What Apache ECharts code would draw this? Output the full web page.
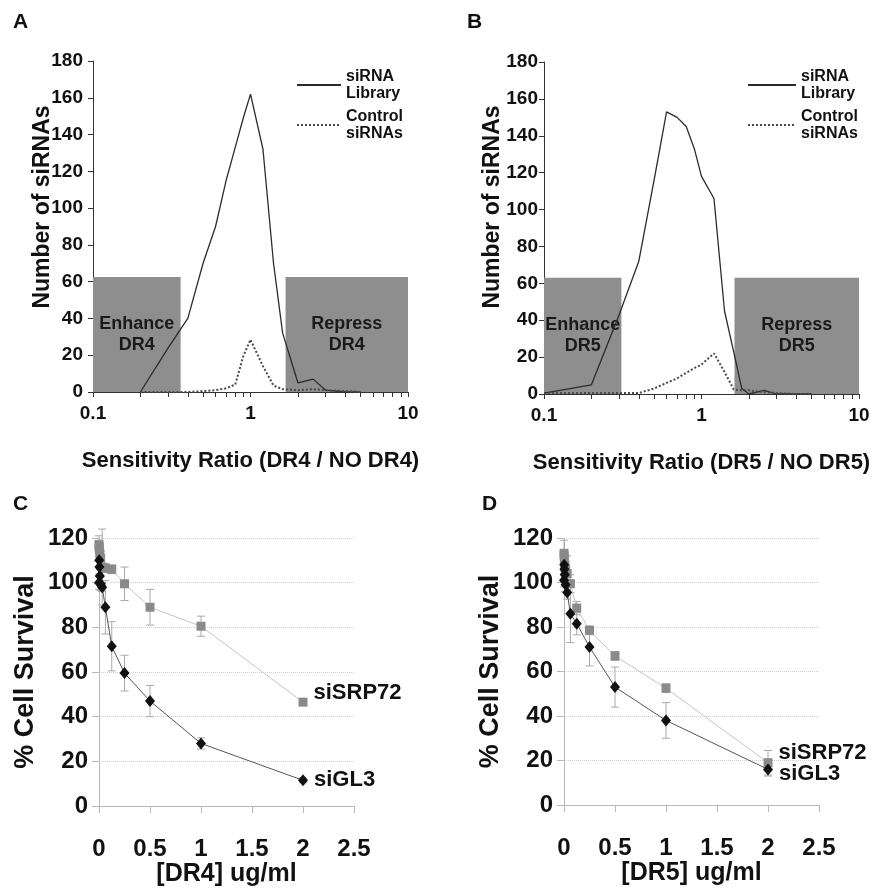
<!DOCTYPE html>
<html>
<head>
<meta charset="utf-8">
<script src="https://cdn.jsdelivr.net/npm/echarts@6/dist/echarts.min.js"></script>
<style>
html, body { margin: 0; padding: 0; background: #fff; }
#main { width: 886px; height: 890px; }
</style>
</head>
<body>
<div id="main"></div>
<script>
var font = 'Liberation Sans, Arial, sans-serif';

// A / B : histogram of sensitivity ratios
var ratioA = [0.2, 0.3, 0.4, 0.5, 0.6, 0.7, 0.8, 0.9, 1, 1.2, 1.4, 1.6, 2, 2.5, 3, 4, 5];
var libraryA = [0, 24, 40, 70, 90, 115, 133, 149, 162, 132, 70, 32, 5, 7, 1, 0, 0];
var controlA = [0, 0, 0, 0.5, 1, 2, 4, 19.5, 28.5, 14, 3.5, 1.5, 1, 1.5, 1, 0.5, 0];

var ratioB = [0.1, 0.2, 0.3, 0.4, 0.5, 0.6, 0.7, 0.8, 0.9, 1, 1.2, 1.4, 1.6, 1.8, 2, 2.5, 3, 4, 5];
var libraryB = [0.5, 5, 43, 72, 116, 153, 150, 145, 133, 118, 106, 45, 23, 3, 0, 2, 0, 0, 0];
var controlB = [0.5, 0.5, 0.5, 0.5, 3, 6, 8.5, 11.5, 14, 16, 22, 12, 2.5, 2, 2, 1, 0.5, 0, 0];

// shaded zones [from, to, height]
var enhanceA = [0.1, 0.36, 62.5];
var repressA = [1.67, 10, 62.5];
var enhanceB = [0.1, 0.31, 63];
var repressB = [1.62, 10, 63];

var logTicks = [0.1, 0.2, 0.3, 0.4, 0.5, 0.6, 0.7, 0.8, 0.9, 1, 2, 3, 4, 5, 6, 7, 8, 9, 10];
var legendNames = ['siRNA\nLibrary', 'Control\nsiRNAs'];

// C / D : dose response
var dose = [0, 0.002, 0.004, 0.008, 0.016, 0.031, 0.0625, 0.125, 0.25, 0.5, 1, 2];

var gl3C = [100, 110, 107, 103, 99.5, 98, 89, 71.5, 59.5, 47, 28, 11.5];
var gl3ErrC = [3, 3, 3, 3, 3, 2, 12, 11, 8, 7, 2.5, 1];
var srpC = [117, 116, 115, 113, 111, 107, 106.5, 106, 99.5, 89, 80.5, 46.5];
var srpErrC = [4, 3, 3, 3, 3, 17, 2, 2, 7.5, 8, 4.5, 1];

var gl3D = [101, 108, 106, 103.5, 99, 95.5, 86, 81.5, 71, 53, 38, 16];
var gl3ErrD = [3, 3, 3, 3, 3, 3, 13, 5, 8.5, 9, 8, 3];
var srpD = [113, 112, 110, 108, 106, 104, 99.5, 88.5, 78.5, 67, 52.5, 19];
var srpErrD = [6, 3, 3, 3, 3, 8, 4, 3, 2, 2, 2, 5.5];

function pairs(xs, ys) {
    return xs.map(function (x, i) { return [x, ys[i]]; });
}

function zones(enh, rep, tag) {
    return [
        [{xAxis: enh[0], yAxis: 0, name: 'Enhance\n' + tag}, {xAxis: enh[1], yAxis: enh[2]}],
        [{xAxis: rep[0], yAxis: 0, name: 'Repress\n' + tag}, {xAxis: rep[1], yAxis: rep[2]}]
    ];
}

function withEndLabel(xs, ys, text, offset) {
    return xs.map(function (x, i) {
        var item = {value: [x, ys[i]]};
        if (i === xs.length - 1) {
            item.label = {
                show: true, position: 'right', distance: 6, offset: offset,
                formatter: text, color: '#111', fontSize: 22, fontWeight: 'bold', fontFamily: font
            };
        }
        return item;
    });
}

function errData(xs, ys, errs) {
    return xs.map(function (x, i) { return [x, ys[i] - errs[i], ys[i] + errs[i]]; });
}

function renderErr(params, api) {
    var x = api.value(0);
    var lo = api.coord([x, api.value(1)]);
    var hi = api.coord([x, api.value(2)]);
    var w = 4;
    var st = {stroke: '#a9a9a9', lineWidth: 1};
    return {
        type: 'group',
        children: [
            {type: 'line', shape: {x1: lo[0], y1: lo[1], x2: hi[0], y2: hi[1]}, style: st},
            {type: 'line', shape: {x1: hi[0] - w, y1: hi[1], x2: hi[0] + w, y2: hi[1]}, style: st},
            {type: 'line', shape: {x1: lo[0] - w, y1: lo[1], x2: lo[0] + w, y2: lo[1]}, style: st}
        ]
    };
}

var tickLabel = {color: '#111', fontSize: 19, fontWeight: 'bold', fontFamily: font};
var bigLabel = {color: '#111', fontSize: 24, fontWeight: 'bold', fontFamily: font};

function logX(grid, name) {
    return {
        type: 'log', gridIndex: grid, min: 0.1, max: 10, logBase: 10,
        axisLine: {lineStyle: {color: '#333', width: 1}},
        axisTick: {show: true, customValues: logTicks, length: 5, lineStyle: {color: '#333'}},
        axisLabel: Object.assign({margin: 12}, tickLabel),
        splitLine: {show: false},
        name: name, nameLocation: 'middle', nameGap: 58,
        nameTextStyle: {color: '#111', fontSize: 22, fontWeight: 'bold', fontFamily: font}
    };
}

function countY(grid, margin) {
    return {
        type: 'value', gridIndex: grid, min: 0, max: 180, interval: 20,
        axisLine: {show: true, lineStyle: {color: '#333', width: 1}},
        axisTick: {show: true, length: 5, lineStyle: {color: '#333'}},
        axisLabel: Object.assign({margin: margin}, tickLabel),
        splitLine: {show: false}
    };
}

function doseX(grid, name) {
    return {
        type: 'value', gridIndex: grid, min: 0, max: 2.5, interval: 0.5,
        axisLine: {lineStyle: {color: '#b8b8b8', width: 1}},
        axisTick: {show: true, length: 7, lineStyle: {color: '#b8b8b8'}},
        axisLabel: Object.assign({margin: 31}, bigLabel),
        splitLine: {show: false},
        name: name, nameLocation: 'middle', nameGap: 54,
        nameTextStyle: {color: '#111', fontSize: 25, fontWeight: 'bold', fontFamily: font}
    };
}

function survivalY(grid) {
    return {
        type: 'value', gridIndex: grid, min: 0, max: 120, interval: 20,
        axisLine: {show: true, lineStyle: {color: '#b8b8b8', width: 1}},
        axisTick: {show: true, length: 7, lineStyle: {color: '#b8b8b8'}},
        axisLabel: Object.assign({margin: 11}, bigLabel),
        splitLine: {show: true, lineStyle: {color: '#cfcfcf', type: 'dotted', width: 1}},
        name: '% Cell Survival', nameLocation: 'middle', nameGap: 60,
        nameTextStyle: {color: '#111', fontSize: 27, fontWeight: 'bold', fontFamily: font}
    };
}

function zoneSeries(xi, enh, rep, tag) {
    return {
        type: 'line', name: 'zones' + tag, xAxisIndex: xi, yAxisIndex: xi, data: [], z: 1,
        markArea: {
            silent: true,
            itemStyle: {color: '#8e8e8e', opacity: 1},
            label: {show: true, position: 'inside', color: '#1a1a1a', fontSize: 18, fontWeight: 'bold',
                fontFamily: font, lineHeight: 21, formatter: '{b}'},
            data: zones(enh, rep, tag)
        }
    };
}

function histSeries(xi, name, xs, ys, dotted) {
    var col = dotted ? '#4a4a4a' : '#2b2b2b';
    return {
        type: 'line', name: name, xAxisIndex: xi, yAxisIndex: xi, z: 3,
        data: pairs(xs, ys), symbol: 'none', silent: true,
        itemStyle: {color: col},
        lineStyle: dotted ? {color: col, width: 2, type: 'dotted'} : {color: col, width: 1.3}
    };
}

function errSeries(xi, ys, errs) {
    return {
        type: 'custom', xAxisIndex: xi, yAxisIndex: xi, z: 2, silent: true,
        renderItem: renderErr, data: errData(dose, ys, errs)
    };
}

function doseSeries(xi, name, ys, dark, offset) {
    return {
        type: 'line', name: name, xAxisIndex: xi, yAxisIndex: xi, z: dark ? 5 : 4, silent: true,
        data: withEndLabel(dose, ys, name, offset),
        symbol: dark ? 'diamond' : 'rect', symbolSize: dark ? [10, 12] : 9,
        itemStyle: {color: dark ? '#111' : '#8a8a8a'},
        lineStyle: {color: dark ? '#555' : '#c4c4c4', width: 1}
    };
}

function histLegend(left, iconWidth) {
    return {
        data: legendNames, orient: 'vertical', left: left, top: 63,
        itemWidth: iconWidth, itemHeight: 14, itemGap: 6, selectedMode: false,
        itemStyle: {opacity: 0},
        textStyle: {color: '#111', fontSize: 16, fontWeight: 'bold', fontFamily: font, lineHeight: 17}
    };
}

var myChart = echarts.init(document.getElementById('main'), null, {renderer: 'canvas'});

var option = {
    backgroundColor: '#fff',
    animation: false,
    grid: [
        {left: 93, top: 61, width: 315, height: 331},
        {left: 544, top: 62, width: 315, height: 332},
        {left: 99, top: 538, width: 255, height: 268},
        {left: 564, top: 538, width: 255, height: 267}
    ],
    xAxis: [
        logX(0, 'Sensitivity Ratio (DR4 / NO DR4)'),
        logX(1, 'Sensitivity Ratio (DR5 / NO DR5)'),
        doseX(2, '[DR4] ug/ml'),
        doseX(3, '[DR5] ug/ml')
    ],
    yAxis: [countY(0, 10), countY(1, 6), survivalY(2), survivalY(3)],
    legend: [histLegend(291, 44), histLegend(742, 48)],
    graphic: [
        {type: 'text', left: 13, top: 12, style: {text: 'A', font: 'bold 21px ' + font, fill: '#111'}},
        {type: 'text', left: 467, top: 12, style: {text: 'B', font: 'bold 21px ' + font, fill: '#111'}},
        {type: 'text', left: 13, top: 494, style: {text: 'C', font: 'bold 21px ' + font, fill: '#111'}},
        {type: 'text', left: 482, top: 494, style: {text: 'D', font: 'bold 21px ' + font, fill: '#111'}},
        {type: 'text', x: 43, y: 207, rotation: Math.PI / 2,
            style: {text: 'Number of siRNAs', font: 'bold 23px ' + font, fill: '#111', align: 'center', verticalAlign: 'middle'}},
        {type: 'text', x: 493, y: 207, rotation: Math.PI / 2,
            style: {text: 'Number of siRNAs', font: 'bold 23px ' + font, fill: '#111', align: 'center', verticalAlign: 'middle'}}
    ],
    series: [
        zoneSeries(0, enhanceA, repressA, 'DR4'),
        histSeries(0, legendNames[0], ratioA, libraryA, false),
        histSeries(0, legendNames[1], ratioA, controlA, true),
        zoneSeries(1, enhanceB, repressB, 'DR5'),
        histSeries(1, legendNames[0], ratioB, libraryB, false),
        histSeries(1, legendNames[1], ratioB, controlB, true),
        errSeries(2, srpC, srpErrC),
        errSeries(2, gl3C, gl3ErrC),
        doseSeries(2, 'siSRP72', srpC, false, [0, -9]),
        doseSeries(2, 'siGL3', gl3C, true, [0, 0]),
        errSeries(3, srpD, srpErrD),
        errSeries(3, gl3D, gl3ErrD),
        doseSeries(3, 'siSRP72', srpD, false, [0, -10]),
        doseSeries(3, 'siGL3', gl3D, true, [0, 5])
    ]
};

myChart.setOption(option);
</script>
</body>
</html>
